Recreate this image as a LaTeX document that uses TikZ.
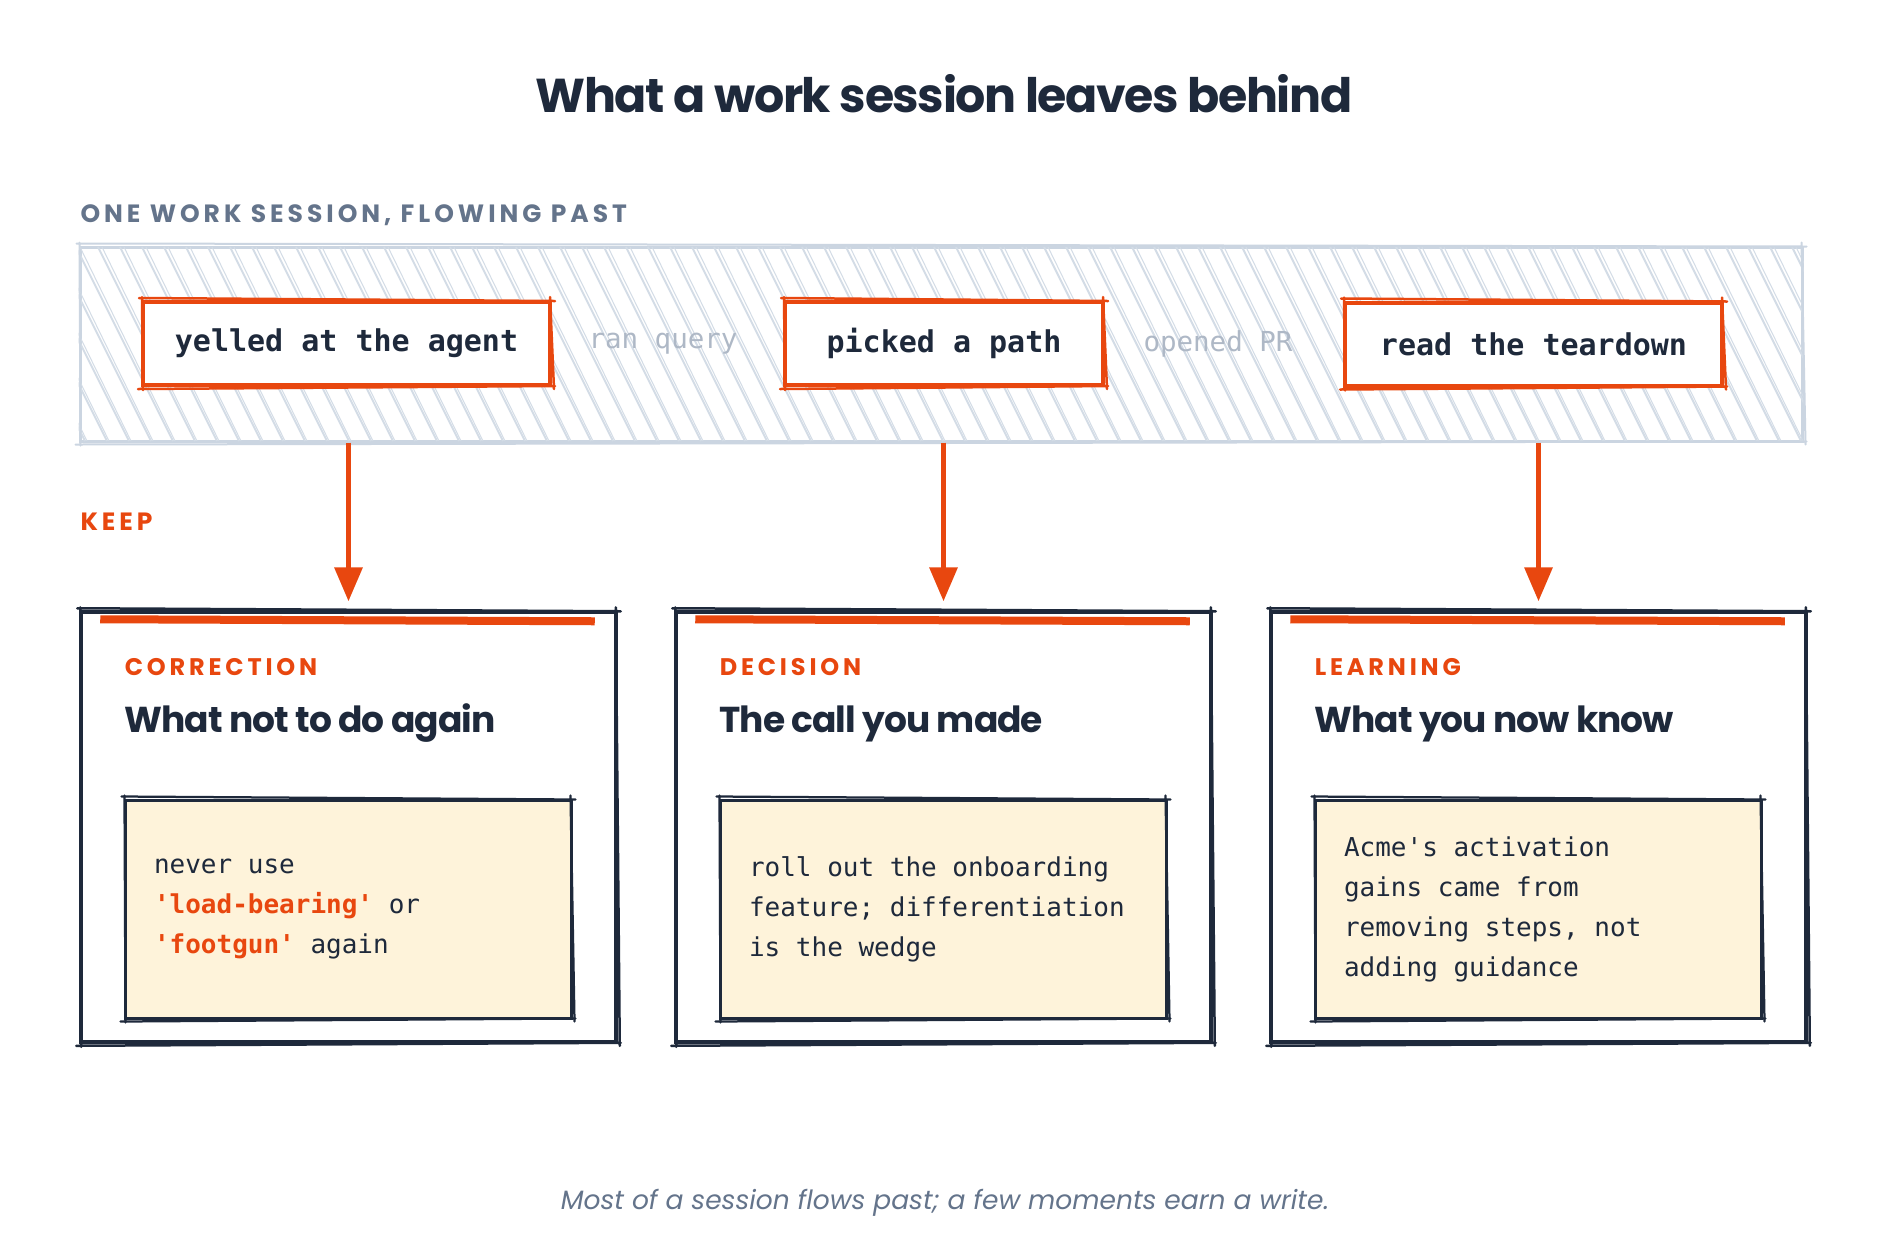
\documentclass[tikz,border=0pt]{standalone}
\usepackage{fontspec}
\usepackage{tikz}
\usetikzlibrary{arrows.meta,calc}
\setmainfont{Poppins}
\setmonofont{DejaVu Sans Mono}
\newfontfamily\capsfont{Poppins}[LetterSpace=16]
\newfontfamily\tightfont{Poppins}[LetterSpace=-3]
\definecolor{flame}{HTML}{E8470F}
\definecolor{ink}{HTML}{1E293B}
\definecolor{cream}{HTML}{FEF3DA}
\definecolor{mist}{HTML}{CBD5E1}
\definecolor{hatch}{HTML}{D3DCE6}
\definecolor{slate}{HTML}{64748B}
\definecolor{faint}{HTML}{AEB8C6}

\newcommand{\roughbox}[3]{%
  \draw[#2,line width=#3,line cap=round]
    ($(#1.north west)+(-2,-2)$) -- ($(#1.north east)+(3,1)$)
    ($(#1.north east)+(-2,-3)$) -- ($(#1.south east)+(2,2)$)
    ($(#1.south east)+(3,-1)$) -- ($(#1.south west)+(-3,2)$)
    ($(#1.south west)+(2,3)$) -- ($(#1.north west)+(1,-3)$);}
\newcommand{\hl}[1]{\textcolor{flame}{\bfseries #1}}

\begin{document}
\begin{tikzpicture}[x=0.4pt,y=-0.4pt,
  every node/.style={inner sep=0pt},
  section/.style={anchor=base west,font=\capsfont\bfseries\fontsize{10}{12}\selectfont,text=slate},
  evbox/.style={draw=flame,line width=1.6pt,fill=white,minimum height=83*0.4pt,
    font=\ttfamily\bfseries\fontsize{12}{14}\selectfont,text=ink},
  passing/.style={font=\ttfamily\fontsize{11}{13}\selectfont,text=faint},
  card/.style={draw=ink,line width=1.4pt,fill=white,minimum width=535*0.4pt,minimum height=430*0.4pt},
  notebox/.style={draw=ink,line width=1.2pt,fill=cream,minimum width=446*0.4pt,minimum height=218*0.4pt},
  kind/.style={anchor=base west,font=\capsfont\bfseries\fontsize{9.6}{11}\selectfont,text=flame},
  head/.style={anchor=base west,font=\tightfont\bfseries\fontsize{14.4}{17}\selectfont,text=ink},
  notetext/.style={anchor=west,align=left,font=\ttfamily\fontsize{10.4}{16}\selectfont,text=ink},
  keeparrow/.style={flame,line width=2pt,shorten >=3.6pt,-{Triangle[length=13.6pt,width=11pt]}}
  ]
  \fill[white] (0,0) rectangle (1880,1248);
  \useasboundingbox (0,0) rectangle (1880,1248);

  \node[anchor=base,font=\tightfont\bfseries\fontsize{19}{23}\selectfont,text=ink] (title) at (944,112)
    {What a work session leaves behind};

  \node[section] (flowlbl) at (80,222) {ONE WORK SESSION, FLOWING PAST};

  \node[draw=mist,line width=1.2pt,minimum width=1722*0.4pt,minimum height=194*0.4pt] (band) at (941,344) {};
  \begin{scope}
    \clip (band.north west) rectangle (band.south east);
    \foreach \t in {-100,-78,...,1810}{
      \draw[hatch,line width=0.8pt] (\t,247) -- (\t+97,441);
      \draw[hatch,line width=0.4pt] (\t+4,247) -- (\t+99,441);
    }
  \end{scope}
  \roughbox{band}{mist}{0.8pt}

  \node[evbox,minimum width=407*0.4pt] (ev1) at (346.5,343.5) {yelled at the agent};
  \node[evbox,minimum width=318*0.4pt] (ev2) at (944,343.5) {picked a path};
  \node[evbox,minimum width=377*0.4pt] (ev3) at (1533.5,344) {read the teardown};
  \roughbox{ev1}{flame}{1pt}
  \roughbox{ev2}{flame}{1pt}
  \roughbox{ev3}{flame}{1pt}

  \node[passing] (query) at (663,344) {ran query};
  \node[passing] (pr) at (1218,344) {opened PR};

  \node[section,text=flame] (keep) at (80,530) {KEEP};

  \foreach \n/\cx/\kindname/\headname in {1/348.5/CORRECTION/What not to do again,
      2/943.5/DECISION/The call you made, 3/1538.5/LEARNING/What you now know}{
    \node[card] (card\n) at (\cx,827) {};
    \roughbox{card\n}{ink}{1pt}
    \draw[flame,line width=3.2pt] ($(card\n.north west)+(21,9)$) -- ($(card\n.north east)+(-23,11)$);
    \node[kind] (kind\n) at ($(card\n.north west)+(45,65)$) {\kindname};
    \node[head] (head\n) at ($(card\n.north west)+(45,122)$) {\headname};
    \node[notebox] (note\n) at (\cx-0.5,909) {};
    \roughbox{note\n}{ink}{0.9pt}
  }

  \node[notetext] (text1) at ($(note1.west)+(30,0)$)
    {never use\\\hl{'load-bearing'} or\\\hl{'footgun'} again};
  \node[notetext] (text2) at ($(note2.west)+(30,0)$)
    {roll out the onboarding\\feature; differentiation\\is the wedge};
  \node[notetext] (text3) at ($(note3.west)+(30,0)$)
    {Acme's activation\\gains came from\\removing steps, not\\adding guidance};

  \draw[keeparrow] (card1.north |- band.south) -- (card1.north);
  \draw[keeparrow] (card2.north |- band.south) -- (card2.north);
  \draw[keeparrow] (card3.north |- band.south) -- (card3.north);

  \node[anchor=base,font=\itshape\fontsize{10.6}{13}\selectfont,text=slate] (foot) at (945,1209)
    {Most of a session flows past; a few moments earn a write.};
\end{tikzpicture}
\end{document}
